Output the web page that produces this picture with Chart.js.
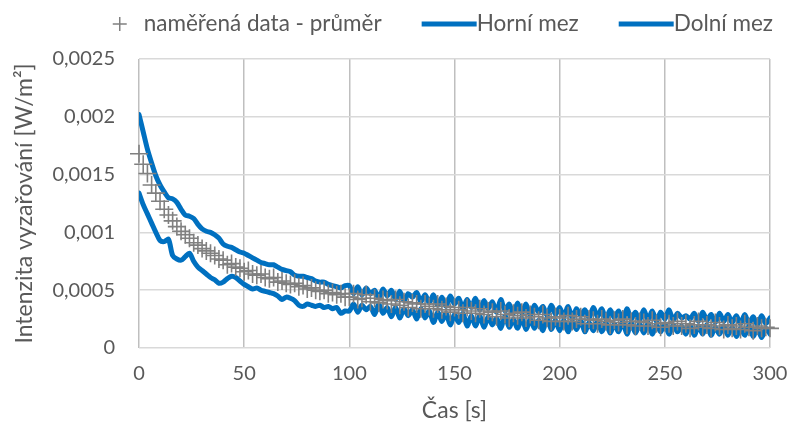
<!DOCTYPE html>
<html>
<head>
  <title>Intenzita vyzařování</title>
  <style>
    body { margin: 0; background: #fff; }
  </style>
</head>
<body>
<canvas id="myChart" width="791" height="427"></canvas>
<script src="https://cdn.jsdelivr.net/npm/chart.js@4/dist/chart.umd.min.js"></script>

<script>
  // values below are in units of 1e-5 W/m2
  const UNIT = 1e-5;

  const times = [
    0, 2, 4, 6, 8, 10, 12, 14, 16, 18,
    20, 22, 24, 26, 28, 30, 32, 34, 36, 38,
    40, 42, 44, 46, 48, 50, 52, 54, 56, 58,
    60, 62, 64, 66, 68, 70, 72, 74, 76, 78,
    80, 82, 84, 86, 88, 90, 92, 94, 96, 98,
    100, 102, 104, 106, 108, 110, 112, 114, 116, 118,
    120, 122, 124, 126, 128, 130, 132, 134, 136, 138,
    140, 142, 144, 146, 148, 150, 152, 154, 156, 158,
    160, 162, 164, 166, 168, 170, 172, 174, 176, 178,
    180, 182, 184, 186, 188, 190, 192, 194, 196, 198,
    200, 202, 204, 206, 208, 210, 212, 214, 216, 218,
    220, 222, 224, 226, 228, 230, 232, 234, 236, 238,
    240, 242, 244, 246, 248, 250, 252, 254, 256, 258,
    260, 262, 264, 266, 268, 270, 272, 274, 276, 278,
    280, 282, 284, 286, 288, 290, 292, 294, 296, 298,
    300
  ];

  const measured = [
    168, 159, 151, 141, 134, 127, 120, 115, 110, 105,
    101, 98, 95, 91, 89, 86, 84, 82, 80, 77,
    76, 72, 73, 70, 69, 66, 67, 64, 63, 64,
    61, 60, 61, 57, 58, 56, 55, 56, 53, 54,
    51, 52, 50, 49, 50, 47, 48, 46, 47, 44,
    44, 47, 42, 43, 46, 40, 43, 39, 42, 41,
    38, 42, 37, 40, 35, 39, 38, 34, 38, 36,
    34, 38, 33, 36, 31, 35, 33, 30, 35, 32,
    30, 34, 29, 32, 31, 27, 32, 29, 26, 30,
    28, 31, 26, 29, 27, 24, 29, 26, 23, 27,
    26, 23, 28, 23, 25, 27, 21, 25, 24, 21,
    25, 23, 20, 24, 22, 25, 20, 23, 19, 23,
    22, 19, 24, 21, 18, 22, 21, 19, 23, 19,
    21, 17, 20, 23, 18, 20, 17, 22, 19, 16,
    20, 17, 19, 16, 21, 18, 15, 19, 17, 18,
    17
  ];

  const upper = [
    202, 187, 172, 160, 149, 141, 135, 130, 129, 126,
    120, 115, 114, 112, 107, 103, 101, 100, 98, 95,
    90, 88, 87, 85, 83, 82, 80, 78, 76, 74,
    73, 72, 72, 70, 68, 67, 66, 63, 62, 62,
    61, 60, 58, 57, 57, 55, 54, 53, 52, 54,
    54, 47, 53, 46, 52, 47, 50, 43, 51, 45,
    50, 42, 49, 41, 47, 44, 48, 40, 46, 39,
    46, 37, 44, 36, 45, 38, 43, 34, 42, 35,
    43, 33, 41, 34, 40, 31, 42, 32, 38, 30,
    39, 30, 38, 28, 37, 31, 36, 28, 37, 29,
    35, 27, 36, 26, 34, 28, 33, 26, 35, 27,
    34, 25, 33, 26, 32, 24, 34, 25, 31, 24,
    33, 24, 32, 23, 31, 25, 33, 24, 30, 26,
    28, 25, 30, 23, 31, 24, 29, 22, 30, 23,
    29, 22, 28, 21, 29, 21, 27, 20, 28, 21,
    26
  ];

  const lower = [
    134, 124, 116, 108, 100, 93, 92, 94, 80, 77,
    76, 79, 82, 75, 70, 67, 64, 61, 59, 56,
    57, 60, 62, 61, 58, 55, 53, 51, 52, 50,
    49, 48, 47, 45, 42, 44, 43, 41, 37, 36,
    38, 37, 36, 37, 35, 36, 34, 35, 30, 32,
    32, 38, 31, 37, 33, 36, 29, 38, 30, 35,
    27, 35, 26, 34, 28, 33, 25, 34, 26, 32,
    22, 31, 23, 30, 20, 29, 22, 30, 19, 28,
    19, 28, 18, 27, 20, 26, 17, 28, 18, 25,
    17, 26, 16, 25, 17, 24, 15, 26, 16, 24,
    15, 24, 14, 23, 16, 24, 14, 22, 15, 23,
    14, 22, 13, 21, 14, 23, 12, 22, 13, 21,
    13, 21, 12, 20, 14, 21, 12, 20, 14, 19,
    12, 20, 11, 19, 12, 20, 11, 18, 12, 19,
    11, 18, 10, 17, 11, 19, 10, 17, 9, 17,
    12
  ];

  const seriesNames = ['naměřená data - průměr', 'Horní mez', 'Dolní mez'];
  const xTicks = { min: 0, max: 300, step: 50 };
  const yTicks = { min: 0, max: 0.0025, step: 0.0005 };

  const FONT = 'Lato';
  const TEXT = '#595959';
  const BLUE = '#0070C0';
  const GREY = '#808080';

  const toPoints = arr => arr.map((v, i) => ({ x: times[i], y: v * UNIT }));

  // legend drawn by hand: a "+" for the data and a short line for each bound
  const topLegend = {
    id: 'topLegend',
    afterDraw(chart) {
      const ctx = chart.ctx;
      ctx.save();
      ctx.font = '22.5px ' + FONT;
      ctx.textBaseline = 'middle';
      const gap = 40;
      const items = chart.data.datasets.map(ds => ({
        label: ds.label,
        line: ds.showLine,
        color: ds.borderColor,
        width: ds.borderWidth,
        sym: ds.showLine ? 55 : 31
      }));
      let total = 0;
      items.forEach((it, i) => {
        it.tw = ctx.measureText(it.label).width;
        total += it.sym + it.tw + (i ? gap : 0);
      });
      let x = chart.chartArea.right + 3 - total;
      const y = 24;
      items.forEach(it => {
        ctx.beginPath();
        if (it.line) {
          ctx.strokeStyle = it.color;
          ctx.lineWidth = it.width;
          ctx.moveTo(x, y);
          ctx.lineTo(x + it.sym, y);
        } else {
          ctx.strokeStyle = GREY;
          ctx.lineWidth = 1.5;
          ctx.moveTo(x, y);
          ctx.lineTo(x + 14, y);
          ctx.moveTo(x + 7, y - 7);
          ctx.lineTo(x + 7, y + 7);
        }
        ctx.stroke();
        ctx.fillStyle = TEXT;
        ctx.fillText(it.label, x + it.sym, y);
        x += it.sym + it.tw + gap;
      });
      ctx.restore();
    }
  };

  const boundStyle = {
    showLine: true,
    pointRadius: 0,
    borderWidth: 5,
    borderColor: BLUE,
    backgroundColor: BLUE,
    borderJoinStyle: 'round',
    borderCapStyle: 'round',
    tension: 0.3
  };

  new Chart(document.getElementById('myChart').getContext('2d'), {
    type: 'scatter',
    data: {
      datasets: [{
        label: seriesNames[0],
        data: toPoints(measured),
        showLine: false,
        pointStyle: 'cross',
        pointRadius: 9,
        pointBorderWidth: 1.6,
        borderColor: GREY,
        backgroundColor: GREY,
        clip: false
      }, {
        label: seriesNames[1],
        data: toPoints(upper),
        ...boundStyle
      }, {
        label: seriesNames[2],
        data: toPoints(lower),
        ...boundStyle
      }]
    },
    options: {
      responsive: false,
      animation: false,
      layout: { padding: { top: 59, right: 21, left: 0, bottom: 0 } },
      plugins: {
        legend: { display: false },
        tooltip: { enabled: false }
      },
      scales: {
        x: {
          type: 'linear',
          min: xTicks.min,
          max: xTicks.max,
          afterFit: scale => {
            scale.height = 79;
            // the end labels may hang over the plot edges
            scale.paddingLeft = 0;
            scale.paddingRight = 0;
          },
          border: { display: false },
          grid: { color: '#BFBFBF', lineWidth: 1.5, drawTicks: false },
          ticks: {
            stepSize: xTicks.step,
            padding: 14,
            color: TEXT,
            font: { family: FONT, size: 20 },
            maxRotation: 0
          },
          title: {
            display: true,
            text: 'Čas [s]',
            color: TEXT,
            font: { family: FONT, size: 23 },
            padding: { top: 0, bottom: 3 }
          }
        },
        y: {
          min: yTicks.min,
          max: yTicks.max,
          afterFit: scale => { scale.width = 139; },
          border: { display: false },
          grid: { color: '#D9D9D9', lineWidth: 1.5, drawTicks: false },
          ticks: {
            stepSize: yTicks.step,
            padding: 24,
            color: TEXT,
            font: { family: FONT, size: 20 },
            callback: v => v === 0 ? '0' : v.toFixed(4).replace(/0+$/, '').replace('.', ',')
          },
          title: {
            display: true,
            text: 'Intenzita vyzařování [W/m²]',
            color: TEXT,
            font: { family: FONT, size: 23 },
            padding: { top: 11, bottom: 0 }
          }
        }
      }
    },
    plugins: [topLegend]
  });
</script>
</body>
</html>
